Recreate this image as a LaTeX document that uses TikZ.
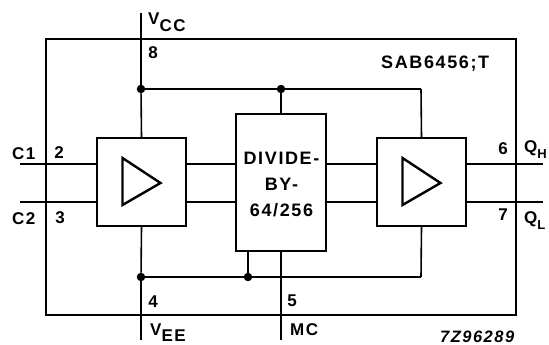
\documentclass[tikz,border=0pt]{standalone}
\usepackage{fontspec}
\setmainfont{Liberation Sans}[LetterSpace=9]
\tikzstyle{wire}=[draw,line width=1.6pt,-]
\tikzstyle{frame}=[draw,line width=2pt,line join=miter]
\tikzstyle{block}=[draw,line width=2.4pt,rectangle,inner sep=0pt,minimum height=88pt,minimum width=89pt]
\tikzstyle{dot}=[fill,circle,minimum size=8.5pt,inner sep=0pt]
\tikzstyle{pin}=[font=\fontsize{17}{18}\selectfont\bfseries,inner sep=0pt]
\tikzstyle{sig}=[font=\fontsize{17}{18}\selectfont\bfseries,inner sep=0pt]
\tikzstyle{amp}=[draw,line width=2.4pt,line join=miter]
\newcommand{\subsize}{\fontsize{13}{14}\selectfont}
\begin{document}
\begin{tikzpicture}[x=1pt,y=-1pt]
    \useasboundingbox (0,0) rectangle (549,345);
    % First we draw the frame and the blocks
    \node[minimum width=470pt,minimum height=276pt,inner sep=0pt,frame] (package) at (281,177) {};
    \node[block] (ampin) at (141.5,182) {};
    \node[block,minimum width=90pt,minimum height=137pt] (divider) at (281,182.5) {};
    \node[block] (ampout) at (421.5,182) {};
    % Triangles inside the amplifiers
    \foreach \name in {ampin,ampout}
        \draw[amp] ([xshift=-19pt,yshift=24pt]\name.center) -- ([xshift=19pt,yshift=-1pt]\name.center) -- ([xshift=-19pt,yshift=-23pt]\name.center) -- cycle;
    % Junctions on the rails
    \foreach \pos/\name in {{(141,89)/vcctap}, {(281,89)/divtap}, {(141,277)/veetap}, {(248,277)/gndtap}}
        \node[dot] (\name) at \pos {};
    \foreach \pos/\name in {{(141,13)/vccend}, {(141,340)/veeend}, {(281,340)/mcend}, {(20,164)/clkone}, {(20,202)/clktwo}, {(543,164)/qhigh}, {(543,202)/qlow}, {(421,277)/railend}, {(421,89)/railtop}, {(281,277)/mccross}}
        \node[coordinate] (\name) at \pos {};
    % Connect blocks with wires
    \path[wire] (vccend) -- (vcctap);
    \path[wire] (vcctap) -- (ampin.north);
    \path[wire] (vcctap) -- (divtap);
    \path[wire] (divtap) -- (railtop);
    \path[wire] (divtap) -- (divider.north);
    \path[wire] (railtop) -- (ampout.north);
    \path[wire] (veeend) -- (veetap);
    \path[wire] (veetap) -- (ampin.south);
    \path[wire] (veetap) -- (gndtap);
    \path[wire] (gndtap) -- (railend);
    \path[wire] (railend) -- (ampout.south);
    \path[wire] (gndtap) -- (gndtap |- divider.south);
    \path[wire] (mcend) -- (mccross) -- (divider.south);
    \foreach \source/\dest/\level in {clkone/ampin/164,clktwo/ampin/202,ampin/divider/164,ampin/divider/202,divider/ampout/164,divider/ampout/202,ampout/qhigh/164,ampout/qlow/202}
        \path[wire] (\source.east |- 0,\level) -- (\dest.west |- 0,\level);
    % Labels
    \node[pin,align=center,font=\fontsize{18}{26}\selectfont\bfseries] (divtext) at (281.5,184.5) {DIVIDE-\\BY-\\64/256};
    \foreach \pos/\txt/\name in {{(153,53)/8/pineight}, {(59,153)/2/pintwo}, {(60,218)/3/pinthree}, {(153,302)/4/pinfour}, {(292,301)/5/pinfive}, {(503,149)/6/pinsix}, {(503,215)/7/pinseven}}
        \node[pin] (\name) at \pos {\txt};
    \foreach \pos/\txt/\name in {{(12,159)/C1/clkonetext}, {(12,224)/C2/clktwotext}, {(290,335)/MC/mctext}}
        \node[sig,anchor=base west] (\name) at \pos {\txt};
    \node[sig,anchor=base west] (vcctext) at (148,25) {V\raisebox{-7pt}{CC}};
    \node[sig,anchor=base west] (veetext) at (150,335) {V\raisebox{-6pt}{EE}};
    \node[sig,anchor=base west] (qhightext) at (524,152) {Q\raisebox{-6pt}{\subsize H}};
    \node[sig,anchor=base west] (qlowtext) at (524,223) {Q\raisebox{-6pt}{\subsize L}};
    \node[sig,font=\fontsize{18}{18}\selectfont\bfseries,anchor=base west] (typetext) at (381,69) {SAB6456;T};
    \node[pin,anchor=base west,font=\fontsize{16.5}{17}\selectfont\bfseries\itshape] (codetext) at (440,342) {7Z96289};
\end{tikzpicture}
\end{document}
